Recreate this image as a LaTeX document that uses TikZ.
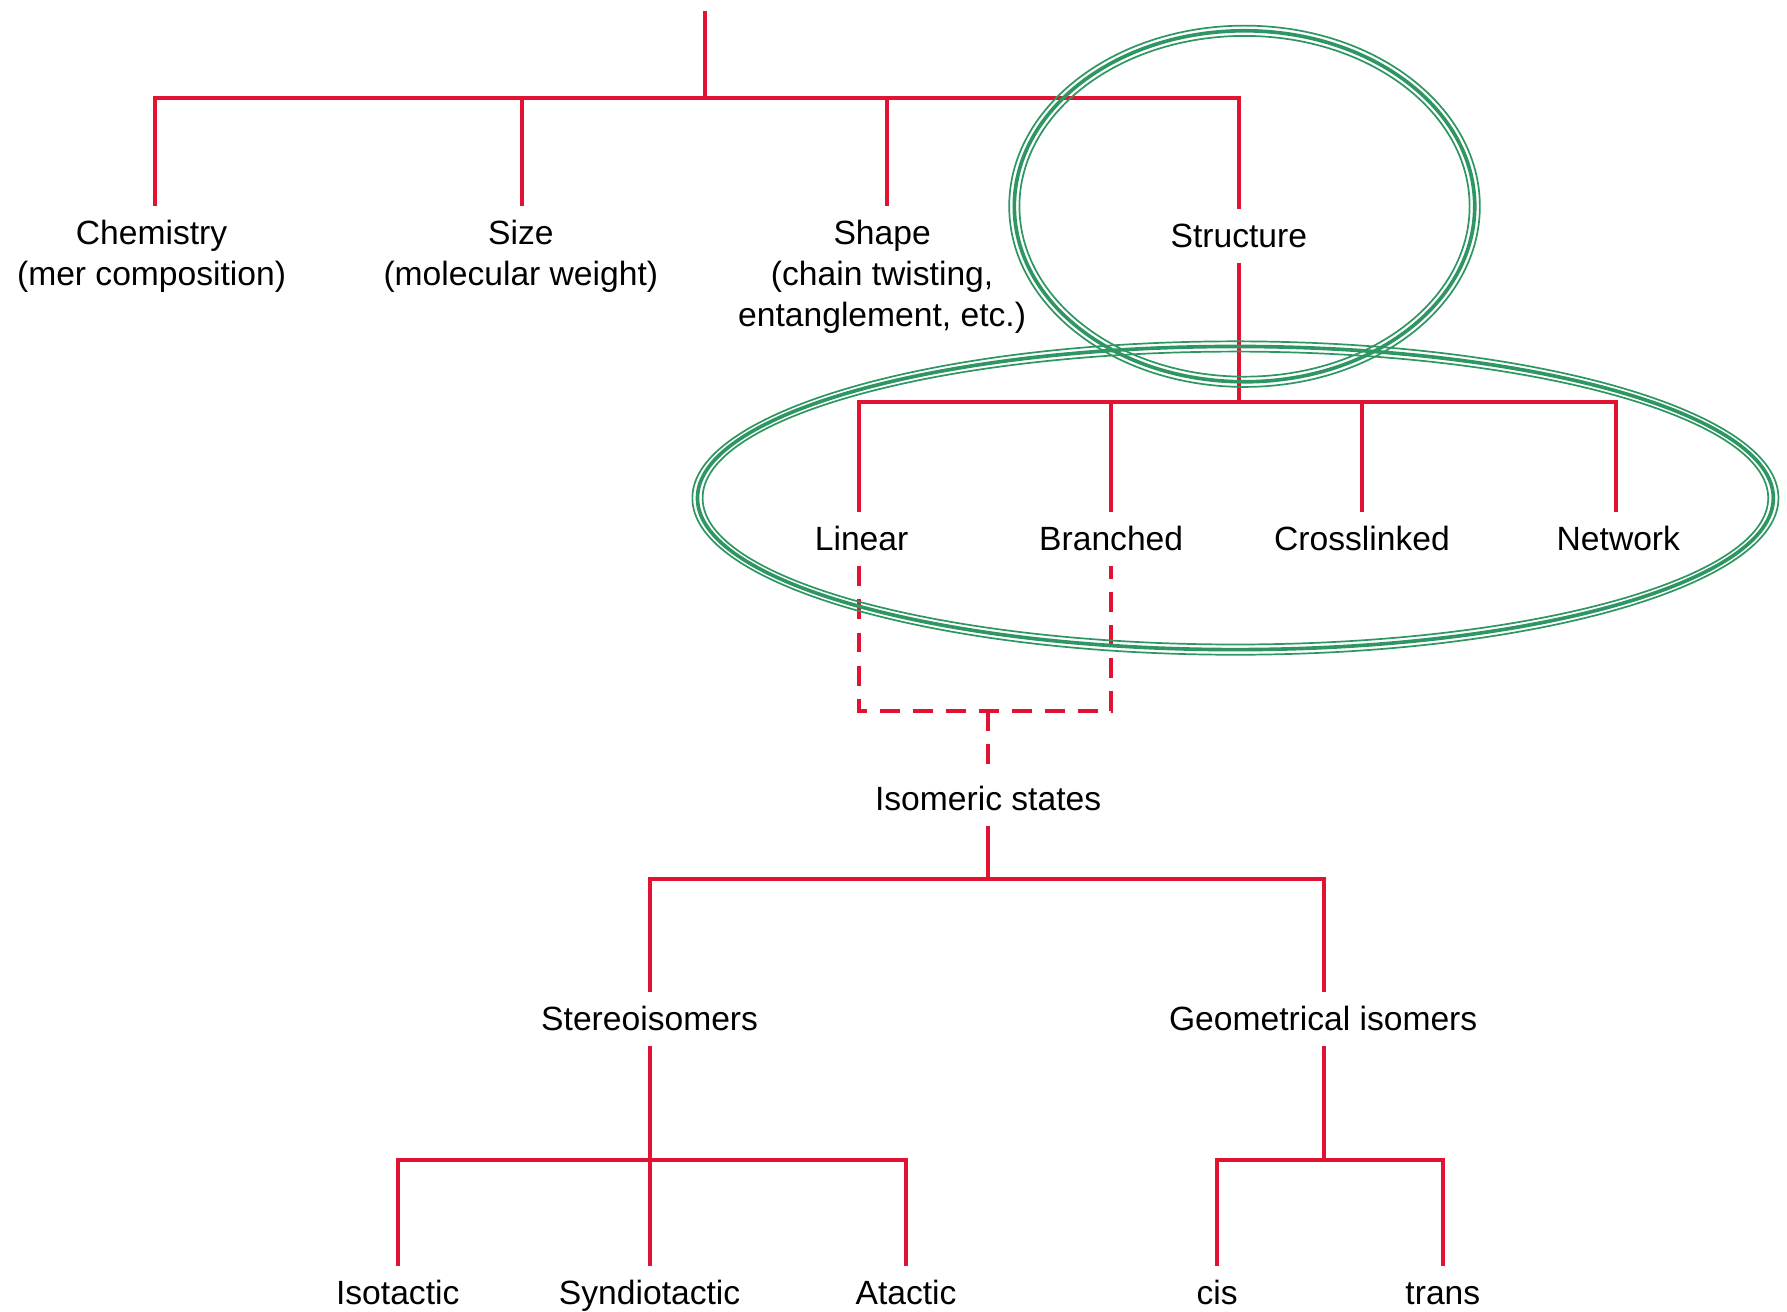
\documentclass[tikz,border=0pt]{standalone}
\usepackage{fontspec}
\setmainfont{Liberation Sans}
\definecolor{wirered}{RGB}{226,18,50}
\definecolor{ringgreen}{RGB}{46,150,98}
\begin{document}
\begin{tikzpicture}[x=1pt,y=-1pt,
  font=\fontsize{29.5}{36}\selectfont,
  lbl/.style={inner sep=0pt, text height=23pt, text depth=3pt, outer ysep=11pt},
  mlbl/.style={inner sep=0pt, outer ysep=12pt, align=center, anchor=north},
  wire/.style={draw=wirered, line width=3.5pt, line join=miter},
  dwire/.style={wire, dash pattern=on 17.5pt off 11.5pt},
  ringthin/.style={draw=ringgreen, line width=1.5pt},
  ringthick/.style={draw=ringgreen, line width=3.2pt}]
\useasboundingbox (0,0) rectangle (1568,1151);

% first level
\coordinate (root) at (619,10);
\coordinate (b1) at (136,86);
\coordinate (b2) at (458,86);
\coordinate (b3) at (778,86);
\coordinate (b4) at (1087,86);
\node[mlbl] (chem) at (133,181) {Chemistry\\(mer composition)};
\node[mlbl] (size) at (457,181) {Size\\(molecular weight)};
\node[mlbl] (shape) at (774,181) {Shape\\(chain twisting,\\entanglement, etc.)};
\node[lbl] (struct) at (1087,207) {Structure};

\draw[wire] (root) -- (root |- b1);
\draw[wire] (b1 |- chem.north) -- (b1) -- (b4) -- (struct.north);
\draw[wire] (b2) -- (b2 |- size.north);
\draw[wire] (b3) -- (b3 |- shape.north);

% molecular structure
\node[lbl] (lin) at (756,473) {Linear};
\node[lbl] (bra) at (975,473) {Branched};
\node[lbl] (cro) at (1195,473) {Crosslinked};
\node[lbl] (net) at (1420,473) {Network};
\coordinate (c0) at (1087,353);
\coordinate (cl) at (754,353);
\coordinate (cb) at (975,353);
\coordinate (cc) at (1195,353);
\coordinate (cn) at (1418,353);
\draw[wire] (struct.south) -- (c0);
\draw[wire] (cl |- lin.north) -- (cl) -- (cn) -- (cn |- net.north);
\draw[wire] (cb) -- (cb |- bra.north);
\draw[wire] (cc) -- (cc |- cro.north);

% isomeric states
\node[lbl] (iso) at (867,701) {Isomeric states};
\coordinate (d0) at (867,624);
\draw[dwire] (cl |- lin.south) -- (cl |- d0) -- (cb |- d0) -- (cb |- bra.south);
\draw[dwire] (d0) -- (iso.north);

\node[lbl] (stereo) at (570,894) {Stereoisomers};
\node[lbl] (geo) at (1161,894) {Geometrical isomers};
\coordinate (e0) at (867,771);
\coordinate (el) at (570,771);
\coordinate (er) at (1162,771);
\draw[wire] (iso.south) -- (e0);
\draw[wire] (el |- stereo.north) -- (el) -- (er) -- (er |- geo.north);

% stereoisomers
\node[lbl] (isot) at (349,1135) {Isotactic};
\node[lbl] (synd) at (570,1135) {Syndiotactic};
\node[lbl] (atac) at (795,1135) {Atactic};
\coordinate (f0) at (570,1018);
\coordinate (fl) at (349,1018);
\coordinate (fr) at (795,1018);
\draw[wire] (stereo.south) -- (f0) -- (f0 |- synd.north);
\draw[wire] (fl |- isot.north) -- (fl) -- (fr) -- (fr |- atac.north);

% geometrical isomers
\node[lbl] (cis) at (1068,1135) {cis};
\node[lbl] (trans) at (1266,1135) {trans};
\coordinate (g0) at (1162,1018);
\coordinate (gl) at (1068,1018);
\coordinate (gr) at (1266,1018);
\draw[wire] (er |- geo.south) -- (g0);
\draw[wire] (gl |- cis.north) -- (gl) -- (gr) -- (gr |- trans.north);

% highlight rings
\foreach \d/\s in {4.5/ringthin,0/ringthick,-4.5/ringthin}{
  \draw[\s] (1092,181) ellipse [x radius=202+\d, y radius=154+\d];
  \draw[\s] (1084,437) ellipse [x radius=472+\d, y radius=133+\d];
}
\end{tikzpicture}
\end{document}
